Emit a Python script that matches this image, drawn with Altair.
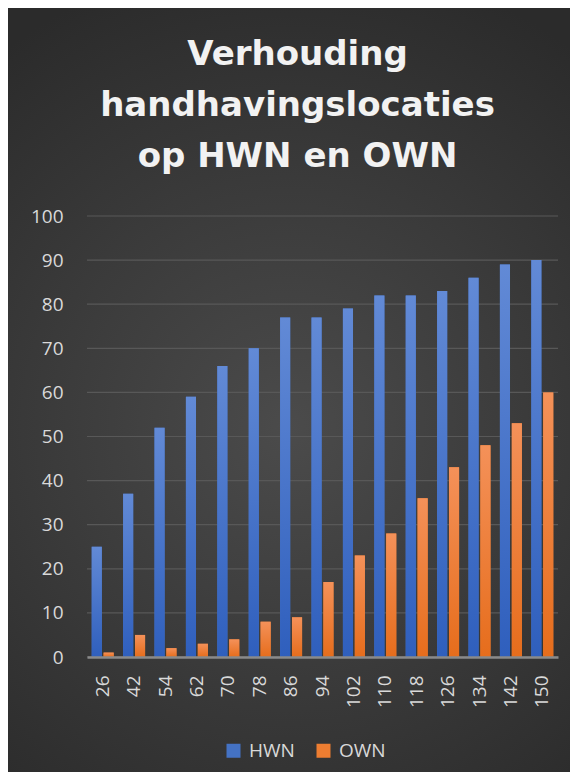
import altair as alt
import pandas as pd

categories = ["26", "42", "54", "62", "70", "78", "86", "94", "102", "110", "118", "126", "134", "142", "150"]
hwn = [25, 37, 52, 59, 66, 70, 77, 77, 79, 82, 82, 83, 86, 89, 90]
own = [1, 5, 2, 3, 4, 8, 9, 17, 23, 28, 36, 43, 48, 53, 60]
series = ["HWN", "OWN"]
y_ticks = [0, 10, 20, 30, 40, 50, 60, 70, 80, 90, 100]
title_lines = ["Verhouding", "handhavingslocaties", "op HWN en OWN"]

rows = []
for c, h, o in zip(categories, hwn, own):
    rows.append({"cat": c, "series": "HWN", "value": h})
    rows.append({"cat": c, "series": "OWN", "value": o})
df = pd.DataFrame(rows)
ticks_df = pd.DataFrame({"value": y_ticks})
bg_df = pd.DataFrame({"a": [0]})

W, H = 471, 441
PL, PT, PR, PB = 79, 208, 12, 115
FONT = "Open Sans"

x_enc = alt.X("cat:N", sort=categories,
              scale=alt.Scale(domain=categories, paddingInner=0.3, paddingOuter=0.15),
              axis=alt.Axis(title=None, labelAngle=-90, labelFontSize=19, labelFont=FONT,
                            labelColor="#d9d9d9", labelPadding=18, ticks=False,
                            domain=True, domainColor="#8a8a8a", domainWidth=2.5,
                            grid=False, zindex=1))
y_axis = alt.Axis(title=None, values=y_ticks, labelFontSize=19, labelFont=FONT,
                  labelColor="#d9d9d9", labelPadding=24, ticks=False,
                  domain=False, grid=False, zindex=1)
y_enc = alt.Y("value:Q", scale=alt.Scale(domain=[0, 100], nice=False), axis=y_axis)
xo_enc = alt.XOffset("series:N", scale=alt.Scale(domain=series, paddingInner=0.15))

bg = alt.Chart(bg_df).mark_rect(
    fill={"gradient": "radial", "x1": 0.5, "y1": 0.55, "r1": 0,
          "x2": 0.5, "y2": 0.55, "r2": 0.62,
          "stops": [{"offset": 0, "color": "#4b4b4b"}, {"offset": 1, "color": "#2b2b2b"}]}
).encode(x=alt.value(-PL), x2=alt.value(W + PR), y=alt.value(-PT), y2=alt.value(H + PB))

grid = alt.Chart(ticks_df).mark_rule(color="#585858", strokeWidth=1.2).encode(
    y=y_enc, x=alt.value(0), x2=alt.value(W))

bars = alt.Chart(df).mark_bar().encode(
    x=x_enc, y=y_enc, xOffset=xo_enc,
    color=alt.Color("series:N", scale=alt.Scale(domain=series, range=["#4472c4", "#ed7d31"]),
                    legend=alt.Legend(title=None, orient="none", direction="horizontal",
                                      legendX=137, legendY=525, symbolType="square",
                                      symbolSize=196, symbolStrokeWidth=0,
                                      labelFontSize=19, labelFont=FONT, labelColor="#d9d9d9",
                                      labelOffset=6, columnPadding=19)))

def grad_layer(name, top, bottom):
    return alt.Chart(df).transform_filter(alt.datum.series == name).mark_bar(
        fill={"gradient": "linear", "x1": 0, "y1": 0, "x2": 0, "y2": 1,
              "stops": [{"offset": 0, "color": top}, {"offset": 1, "color": bottom}]}
    ).encode(x=x_enc, y=y_enc, xOffset=xo_enc)

hwn_layer = grad_layer("HWN", "#628ad6", "#2f5fbd")
own_layer = grad_layer("OWN", "#f49159", "#e66d1c")

chart = alt.layer(bg, grid, bars, hwn_layer, own_layer).properties(
    width=W, height=H,
    autosize=alt.AutoSizeParams(type="none"),
    padding={"left": PL, "top": PT, "right": PR, "bottom": PB},
    background="#2d2d2d",
    title=alt.TitleParams(text=title_lines, fontSize=34, font="DejaVu Sans", fontWeight="bold",
                          color="#f2f2f2", anchor="middle", frame="group", dx=-25,
                          offset=-166, lineHeight=51),
).configure_view(stroke=None)

chart.save("out.html", embed_options={"renderer": "svg", "actions": False})
